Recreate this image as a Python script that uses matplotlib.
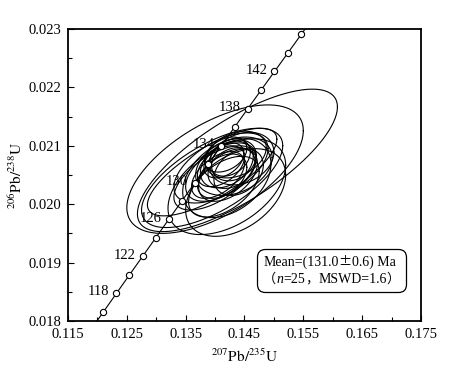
import numpy as np
import matplotlib

matplotlib.use("Agg")
import matplotlib.pyplot as plt
from matplotlib.offsetbox import AnchoredOffsetbox, HPacker, TextArea, VPacker
from matplotlib.ticker import FormatStrFormatter

# decay constants (per year)
LAMBDA_238 = 1.55125e-10
LAMBDA_235 = 9.8485e-10

# concordia markers every 2 Ma, labels every 4 Ma
marker_ages = list(range(116, 148, 2))
label_ages = [118, 122, 126, 130, 134, 138, 142]

# spot analyses: 207Pb/235U, 206Pb/238U, 2s half-widths and error correlation
pb207_u235 = [0.1438, 0.1400, 0.1395, 0.1420, 0.1395, 0.1435, 0.1420, 0.1410, 0.1432,
              0.1410, 0.1420, 0.1428, 0.1412, 0.1432, 0.1410, 0.1425, 0.1418, 0.1440,
              0.1415, 0.1422, 0.1405, 0.1435, 0.1415, 0.1445, 0.1400]
pb207_err = [0.0170, 0.0150, 0.0120, 0.0100, 0.0110, 0.0085, 0.0075, 0.0080, 0.0065,
             0.0060, 0.0045, 0.0040, 0.0042, 0.0038, 0.0040, 0.0035, 0.0036, 0.0042,
             0.0034, 0.0050, 0.0045, 0.0052, 0.0060, 0.0055, 0.0070]
pb206_u238 = [0.02075, 0.02060, 0.02045, 0.02030, 0.02055, 0.02020, 0.02045, 0.02062,
              0.02065, 0.02055, 0.02068, 0.02062, 0.02048, 0.02075, 0.02065, 0.02080,
              0.02085, 0.02055, 0.02075, 0.02050, 0.02050, 0.02085, 0.02030, 0.02078,
              0.02045]
pb206_err = [0.00122, 0.00110, 0.00085, 0.00082, 0.00075, 0.00075, 0.00068, 0.00060,
             0.00050, 0.00050, 0.00040, 0.00035, 0.00038, 0.00035, 0.00035, 0.00032,
             0.00030, 0.00040, 0.00030, 0.00045, 0.00040, 0.00040, 0.00052, 0.00045,
             0.00055]
rho = [0.75, 0.60, 0.65, 0.45, 0.75, 0.40, 0.35, 0.55, 0.30, 0.50, 0.35, 0.30, 0.40,
       0.25, 0.45, 0.30, 0.35, 0.30, 0.40, 0.45, 0.50, 0.30, 0.50, 0.25, 0.60]

plt.rcParams["font.family"] = ["Liberation Serif", "Noto Sans CJK SC"]
plt.rcParams["mathtext.fontset"] = "stix"


def concordia(age_ma):
    t = np.asarray(age_ma, dtype=float) * 1e6
    return np.exp(LAMBDA_235 * t) - 1, np.exp(LAMBDA_238 * t) - 1


fig = plt.figure(figsize=(4.49, 3.76), dpi=100)
ax = fig.add_axes([0.1514, 0.1463, 0.7862, 0.7766])

# error ellipses
theta = np.linspace(0, 2 * np.pi, 200)
for cx, sx, cy, sy, r in zip(pb207_u235, pb207_err, pb206_u238, pb206_err, rho):
    ex = cx + sx * np.cos(theta)
    ey = cy + sy * (r * np.cos(theta) + np.sqrt(1 - r * r) * np.sin(theta))
    ax.plot(ex, ey, color="black", lw=0.8)

# concordia curve
cx_line, cy_line = concordia(np.linspace(112, 150, 300))
ax.plot(cx_line, cy_line, color="black", lw=0.8, zorder=3)
mx, my = concordia(marker_ages)
ax.plot(mx, my, "o", ms=4.5, mfc="white", mec="black", mew=0.8, zorder=4)
lx, ly = concordia(label_ages)
for age, x, y in zip(label_ages, lx, ly):
    ax.annotate(str(age), (x, y), xytext=(-5, 1), textcoords="offset points",
                ha="right", va="center", fontsize=10.5, zorder=5)

# result box
serif = dict(family="Liberation Serif", size=10)
italic = dict(family="Liberation Serif", size=10, style="italic")
cjk = dict(family="Noto Sans CJK SC", size=9.5)
line1 = HPacker(children=[TextArea("Mean=(131.0", textprops=serif),
                          TextArea("±", textprops=cjk),
                          TextArea("0.6) Ma", textprops=serif)],
                align="baseline", pad=0, sep=0)
line2 = HPacker(children=[TextArea("（", textprops=cjk),
                          TextArea("n", textprops=italic),
                          TextArea("=25", textprops=serif),
                          TextArea("，", textprops=cjk),
                          TextArea("MSWD=1.6", textprops=serif),
                          TextArea("）", textprops=cjk)],
                align="baseline", pad=0, sep=0)
box = AnchoredOffsetbox(loc="center", child=VPacker(children=[line1, line2], align="left",
                                                      pad=0, sep=3),
                        pad=0.45, borderpad=0, frameon=True,
                        bbox_to_anchor=(0.7465, 0.173), bbox_transform=ax.transAxes)
box.patch.set_boxstyle("round,pad=0,rounding_size=0.6")
box.patch.set_linewidth(0.9)
ax.add_artist(box)

ax.set_xlim(0.115, 0.175)
ax.set_ylim(0.018, 0.023)
ax.set_xticks(np.arange(0.115, 0.1751, 0.01))
ax.set_xticks(np.arange(0.120, 0.175, 0.01), minor=True)
ax.set_yticks(np.arange(0.018, 0.02301, 0.001))
ax.set_yticks(np.arange(0.0185, 0.023, 0.001), minor=True)
ax.xaxis.set_major_formatter(FormatStrFormatter("%.3f"))
ax.yaxis.set_major_formatter(FormatStrFormatter("%.3f"))
ax.tick_params(which="both", direction="in", labelsize=10.5, width=0.8)
ax.tick_params(which="major", length=4, pad=5)
ax.tick_params(which="minor", length=3)
for spine in ax.spines.values():
    spine.set_linewidth(1.3)

ax.set_xlabel(r"$^{207}\mathrm{Pb}/^{235}\mathrm{U}$", fontsize=11, labelpad=5)
ax.set_ylabel(r"$^{206}\mathrm{Pb}/^{238}\mathrm{U}$", fontsize=11, labelpad=2)

fig.savefig("out.png", dpi=100)
